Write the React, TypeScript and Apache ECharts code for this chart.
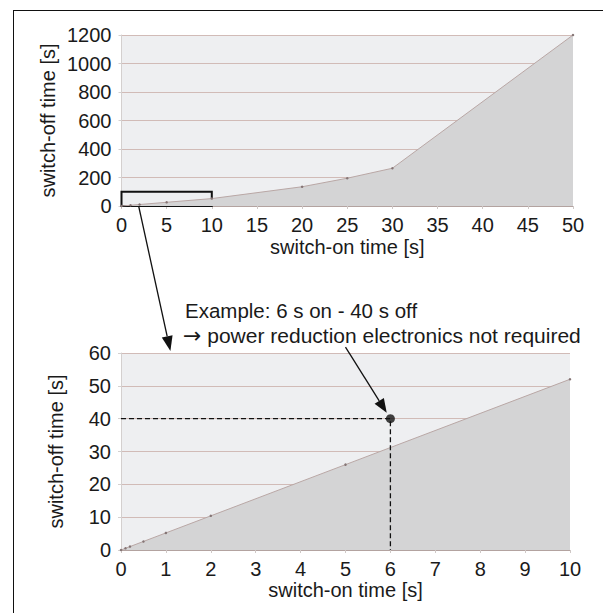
import React, { useEffect, useRef } from "react";
import * as echarts from "echarts";

// Overview chart (switch-on time 0..50 s)
const topOn = [0, 1, 2, 5, 10, 20, 25, 30, 50];
const topOff = [0, 5.2, 10.4, 26, 52, 135, 195, 265, 1200];
// Zoomed chart (switch-on time 0..10 s)
const zoomOn = [0, 0.1, 0.2, 0.5, 1, 2, 5, 10];
const zoomOff = [0, 0.52, 1.04, 2.6, 5.2, 10.4, 26, 52];
// Example operating point
const exampleOn = 6;
const exampleOff = 40;
// Zoom box drawn on overview chart
const boxOn = [0, 10];
const boxOff = [0, 100];
// Axis ranges [min, max, interval]
const topXAxis = [0, 50, 5];
const topYAxis = [0, 1200, 200];
const zoomXAxis = [0, 10, 1];
const zoomYAxis = [0, 60, 10];

const xTitle = "switch-on time [s]";
const yTitle = "switch-off time [s]";
const note1 = "Example: 6 s on - 40 s off";
const note2Arrow = "\u2192";
const note2 = " power reduction electronics not required";

const FONT = "'Liberation Sans', Arial, Helvetica, sans-serif";
const TXT = "#1a1a1a";

function xAxisCfg(grid: number, r: number[], gap: number) {
  return {
    type: "value",
    gridIndex: grid,
    min: r[0],
    max: r[1],
    interval: r[2],
    name: xTitle,
    nameLocation: "middle",
    nameGap: gap,
    nameTextStyle: { fontSize: 20, color: TXT, fontFamily: FONT },
    axisLine: { show: true, onZero: false, lineStyle: { color: "#b3a3a0", width: 1.2 } },
    axisTick: { show: true, length: 3, lineStyle: { color: "#cfc8c6" } },
    axisLabel: { fontSize: 20, color: TXT, fontFamily: FONT, margin: 9, formatter: (v: number) => String(v) },
    splitLine: { show: false },
  };
}

function yAxisCfg(grid: number, r: number[], gap: number) {
  return {
    type: "value",
    gridIndex: grid,
    min: r[0],
    max: r[1],
    interval: r[2],
    name: yTitle,
    nameLocation: "middle",
    nameGap: gap,
    nameMoveOverlap: false,
    nameTextStyle: { fontSize: 20, color: TXT, fontFamily: FONT },
    axisLine: { show: true, lineStyle: { color: "#d4d0cf", width: 1 } },
    axisTick: { show: true, length: 3, lineStyle: { color: "#d4d0cf" } },
    axisLabel: { fontSize: 20, color: TXT, fontFamily: FONT, margin: 10, formatter: (v: number) => String(v) },
    splitLine: { show: true, lineStyle: { color: "#d1bbb7", width: 1.2 } },
  };
}

function arrow(from: number[], to: number[], headLen: number, headW: number) {
  const dx = to[0] - from[0];
  const dy = to[1] - from[1];
  const len = Math.hypot(dx, dy);
  const ux = dx / len;
  const uy = dy / len;
  const bx = to[0] - ux * headLen;
  const by = to[1] - uy * headLen;
  const px = -uy;
  const py = ux;
  return [
    {
      type: "line",
      silent: true,
      shape: { x1: from[0], y1: from[1], x2: bx, y2: by },
      style: { stroke: "#111", lineWidth: 1.3 },
    },
    {
      type: "polygon",
      silent: true,
      shape: {
        points: [
          [to[0], to[1]],
          [bx + px * headW, by + py * headW],
          [bx - px * headW, by - py * headW],
        ],
      },
      style: { fill: "#111" },
    },
  ];
}

export default function App() {
  const ref = useRef<HTMLDivElement>(null);

  useEffect(() => {
    if (!ref.current) return;
    const chart = echarts.init(ref.current, undefined, { renderer: "svg" });
    const option: any = {
      animation: false,
      backgroundColor: "#ffffff",
      grid: [
        { left: 121.5, right: 30, top: 35, height: 171, show: true, backgroundColor: "#eeeff1", borderWidth: 0 },
        { left: 121, right: 33, top: 353, height: 197, show: true, backgroundColor: "#eeeff1", borderWidth: 0 },
      ],
      xAxis: [xAxisCfg(0, topXAxis, 31), xAxisCfg(1, zoomXAxis, 30)],
      yAxis: [yAxisCfg(0, topYAxis, 64), yAxisCfg(1, zoomYAxis, 55)],
      series: [
        {
          type: "line",
          xAxisIndex: 0,
          yAxisIndex: 0,
          data: topOn.map((x, i) => [x, topOff[i]]),
          symbol: "circle",
          symbolSize: 2.5,
          itemStyle: { color: "#857575" },
          lineStyle: { color: "#b9a7a5", width: 1 },
          areaStyle: { color: "#d4d4d5", opacity: 1 },
          z: 2,
          markArea: {
            silent: true,
            itemStyle: { color: "rgba(0,0,0,0)", borderColor: "#111", borderWidth: 2 },
            data: [[{ coord: [boxOn[0], boxOff[0]] }, { coord: [boxOn[1], boxOff[1]] }]],
          },
        },
        {
          type: "line",
          xAxisIndex: 1,
          yAxisIndex: 1,
          data: zoomOn.map((x, i) => [x, zoomOff[i]]),
          symbol: "circle",
          symbolSize: 2.5,
          itemStyle: { color: "#857575" },
          lineStyle: { color: "#b9a7a5", width: 1 },
          areaStyle: { color: "#d4d4d5", opacity: 1 },
          z: 2,
        },
        {
          type: "line",
          xAxisIndex: 1,
          yAxisIndex: 1,
          data: [
            [zoomXAxis[0], exampleOff],
            [exampleOn, exampleOff],
            [exampleOn, zoomYAxis[0]],
          ],
          symbol: "none",
          lineStyle: { color: "#111", width: 1.3, type: [5, 3] },
          z: 4,
        },
        {
          type: "scatter",
          xAxisIndex: 1,
          yAxisIndex: 1,
          data: [[exampleOn, exampleOff]],
          symbol: "circle",
          symbolSize: 9,
          itemStyle: { color: "#111" },
          z: 5,
        },
      ],
    };
    chart.setOption(option);

    const p0 = (pt: number[]) => chart.convertToPixel({ gridIndex: 0 } as any, pt) as number[];
    const p1 = (pt: number[]) => chart.convertToPixel({ gridIndex: 1 } as any, pt) as number[];

    const bigFrom = p0([1.9, 0]);
    const bigTo = p1([1.1, 60.6]);
    const pt = p1([exampleOn, exampleOff]);
    const smallFrom = p1([5.0, 61.8]);
    const dx = pt[0] - smallFrom[0];
    const dy = pt[1] - smallFrom[1];
    const l = Math.hypot(dx, dy);
    const smallTo = [pt[0] - (dx / l) * 7, pt[1] - (dy / l) * 7];

    chart.setOption({
      graphic: [
        { type: "line", silent: true, shape: { x1: 13, y1: 10.5, x2: 603, y2: 10.5 }, style: { stroke: "#111", lineWidth: 1 } },
        { type: "line", silent: true, shape: { x1: 13.5, y1: 10, x2: 13.5, y2: 613 }, style: { stroke: "#111", lineWidth: 1 } },
        ...arrow(bigFrom, bigTo, 15, 5.5),
        ...arrow(smallFrom, smallTo, 14, 5.5),
        {
          type: "text",
          silent: true,
          x: 185,
          y: 310,
          style: { text: note1, fontSize: 20.5, fontFamily: FONT, fill: TXT, verticalAlign: "middle", align: "left" },
        },
        {
          type: "text",
          silent: true,
          x: 183,
          y: 335,
          style: {
            text: "{a|" + note2Arrow + "}" + note2,
            fontSize: 21,
            fontFamily: FONT,
            fill: TXT,
            verticalAlign: "middle",
            align: "left",
            rich: {
              a: { fontSize: 22, fontFamily: "'DejaVu Sans', sans-serif", fill: TXT },
            },
          },
        },
      ],
    });

    return () => chart.dispose();
  }, []);

  return (
    <div
      ref={ref}
      style={{ position: "fixed", left: 0, top: 0, width: 603, height: 613, background: "#fff" }}
    />
  );
}
